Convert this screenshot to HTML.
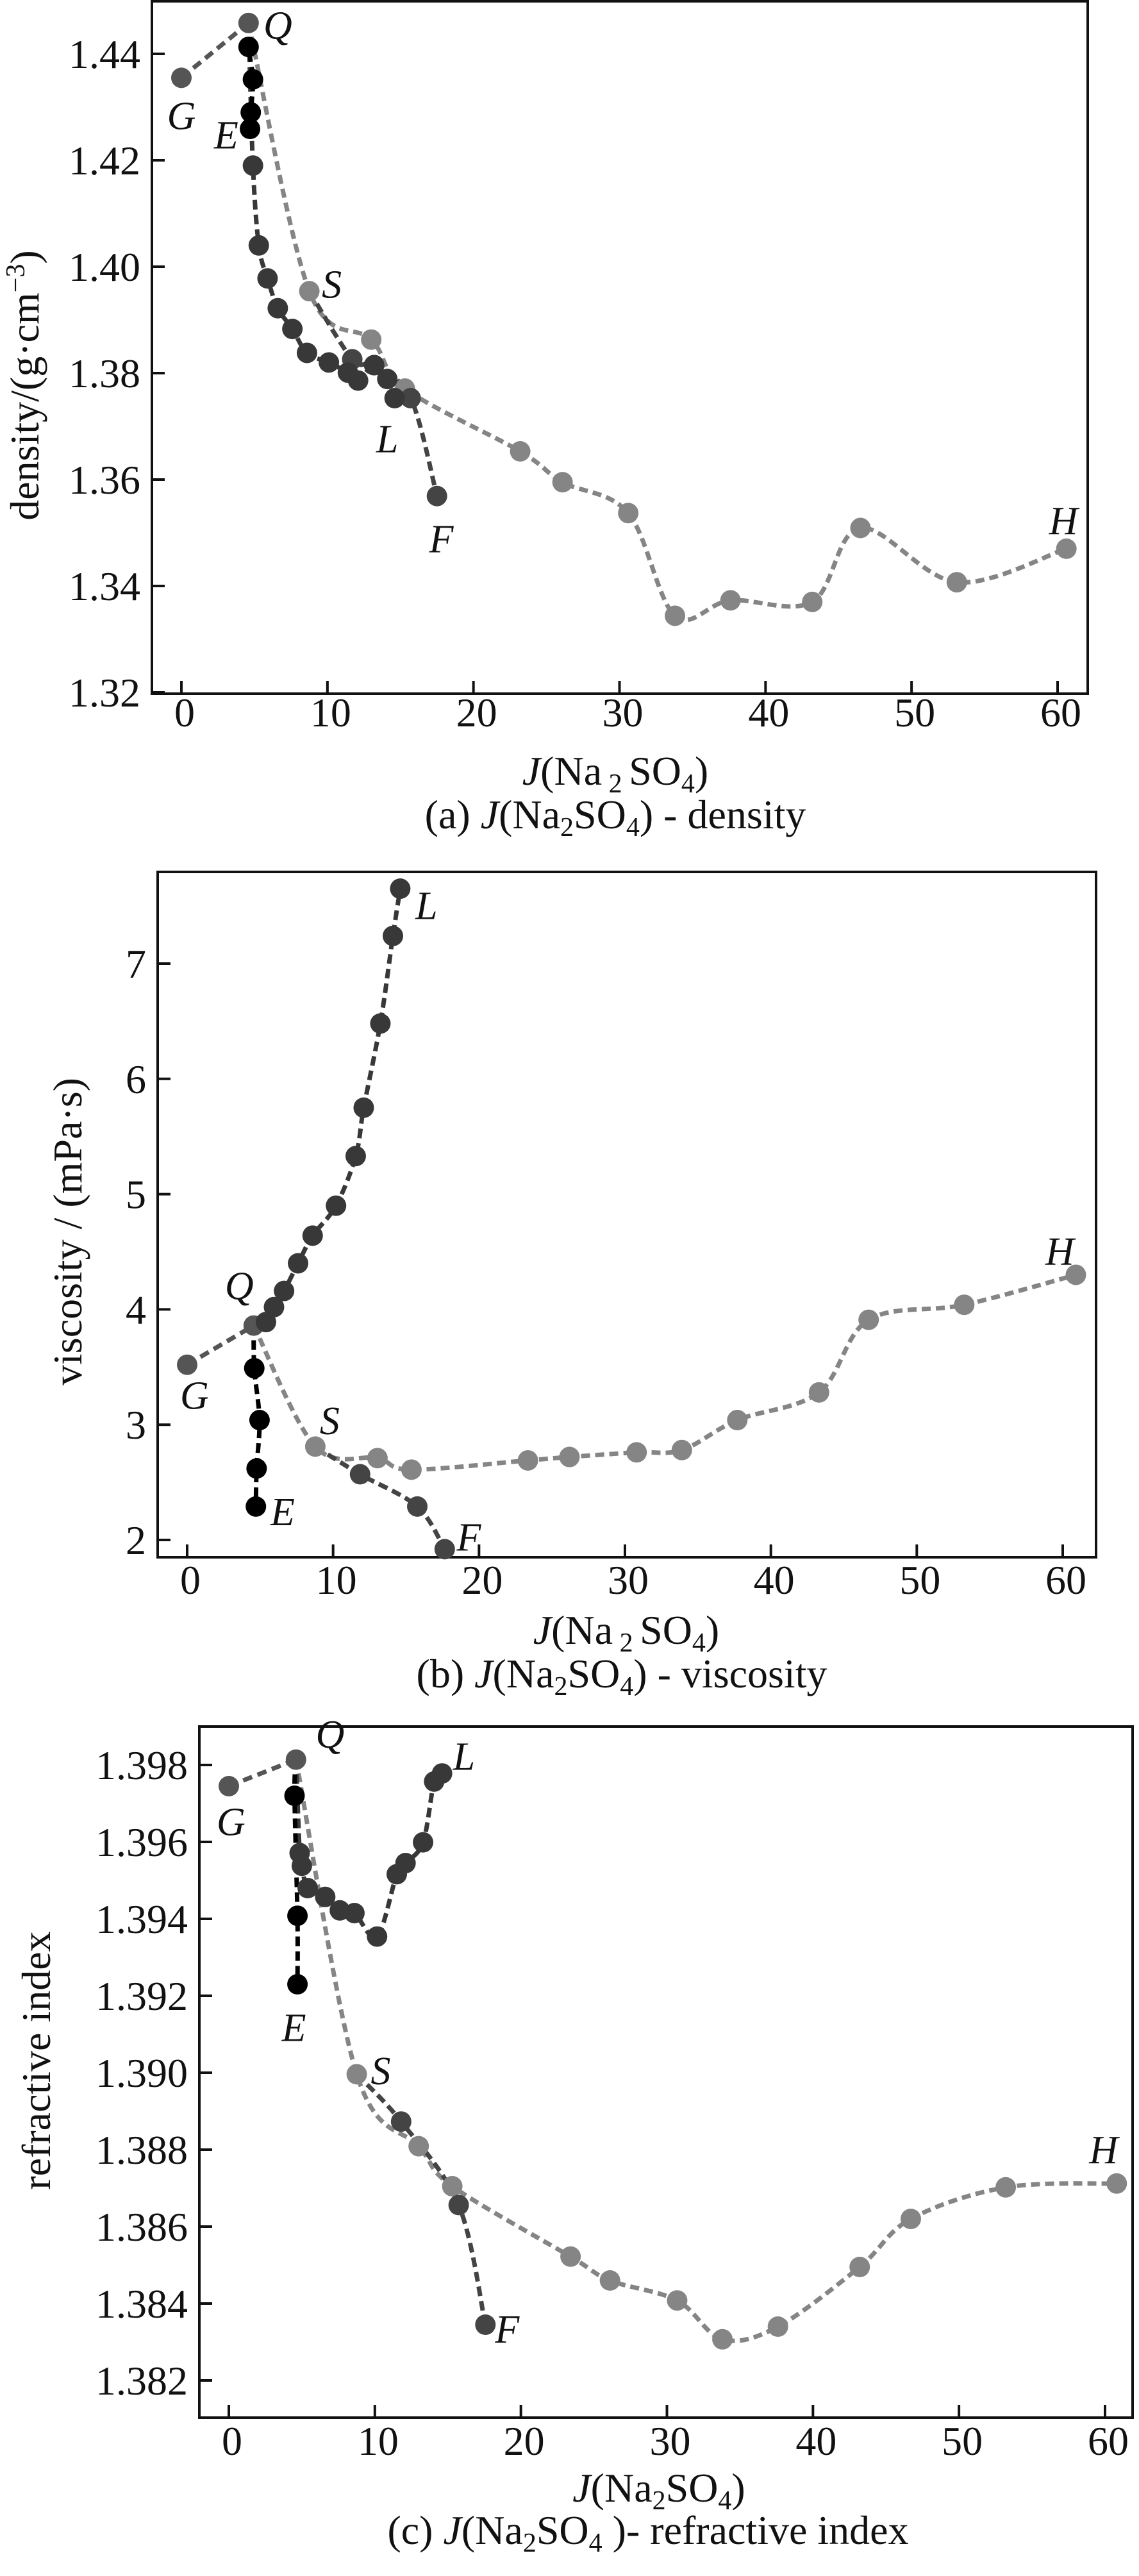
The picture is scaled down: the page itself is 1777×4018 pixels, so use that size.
<!DOCTYPE html>
<html><head><meta charset="utf-8">
<style>
html,body{margin:0;padding:0;background:#fff}
svg{display:block}
text{font-family:"Liberation Serif",serif;fill:#111}
.tick{font-size:64px}
.lab{font-size:62px;font-style:italic}
.ax{font-size:64px}
</style></head>
<body>
<svg id="fig" width="1777" height="4018" viewBox="0 0 1777 4018" xmlns="http://www.w3.org/2000/svg">
<rect width="1777" height="4018" fill="#fff"/>
<g id="pa"></g>
<g id="pb"></g>
<g id="pc"></g>
<text class="ax" transform="translate(60,601) rotate(-90)" text-anchor="middle">density/(g·cm<tspan font-size="42" dy="-22">−3</tspan><tspan dy="22">)</tspan></text>
<text class="ax" x="960" y="1224" text-anchor="middle"><tspan font-style="italic">J</tspan>(Na<tspan font-size="42" dy="12"> 2 </tspan><tspan dy="-12">SO</tspan><tspan font-size="42" dy="12">4</tspan><tspan dy="-12">)</tspan></text>
<text class="ax" x="960" y="1292" text-anchor="middle">(a) <tspan font-style="italic">J</tspan>(Na<tspan font-size="42" dy="12">2</tspan><tspan dy="-12">SO</tspan><tspan font-size="42" dy="12">4</tspan><tspan dy="-12">) - density</tspan></text>
<text class="ax" transform="translate(127,1921) rotate(-90)" text-anchor="middle">viscosity / (mPa·s)</text>
<text class="ax" x="977" y="2564" text-anchor="middle"><tspan font-style="italic">J</tspan>(Na<tspan font-size="42" dy="12"> 2 </tspan><tspan dy="-12">SO</tspan><tspan font-size="42" dy="12">4</tspan><tspan dy="-12">)</tspan></text>
<text class="ax" x="970" y="2632" text-anchor="middle">(b) <tspan font-style="italic">J</tspan>(Na<tspan font-size="42" dy="12">2</tspan><tspan dy="-12">SO</tspan><tspan font-size="42" dy="12">4</tspan><tspan dy="-12">) - viscosity</tspan></text>
<text class="ax" transform="translate(78,3214) rotate(-90)" text-anchor="middle">refractive index</text>
<text class="ax" x="1028" y="3902" text-anchor="middle"><tspan font-style="italic">J</tspan>(Na<tspan font-size="42" dy="12">2</tspan><tspan dy="-12">SO</tspan><tspan font-size="42" dy="12">4</tspan><tspan dy="-12">)</tspan></text>
<text class="ax" x="1011" y="3968" text-anchor="middle">(c) <tspan font-style="italic">J</tspan>(Na<tspan font-size="42" dy="12">2</tspan><tspan dy="-12">SO</tspan><tspan font-size="42" dy="12">4</tspan><tspan dy="-12"> )- refractive index</tspan></text>
</svg>
<script>
// ---- (a) density ----
const aTicksY=[1.32,1.34,1.36,1.38,1.40,1.42,1.44];
const aTickLabelsY=["1.32","1.34","1.36","1.38","1.40","1.42","1.44"];
const aGQ=[[0,1.4355],[4.6,1.4458]];
const aEQ=[[4.6,1.4458],[4.6,1.4413],[4.9,1.4352],[4.75,1.4290],[4.7,1.4259]];
const aQL=[[4.6,1.4458],[4.9,1.4190],[5.3,1.4040],[5.9,1.3978],[6.6,1.3922],[7.6,1.3883],[8.6,1.3838],[10.1,1.3820],[11.4,1.3801],[12.1,1.3786],[13.2,1.3815],[14.1,1.3789],[14.6,1.3753]];
const aSF=[[8.76,1.3954],[11.7,1.3826],[13.2,1.3815],[15.7,1.3753],[17.5,1.3569]];
const aQSH=[[4.6,1.4458],[8.76,1.3954],[13.0,1.3863],[15.3,1.3771],[23.2,1.3653],[26.1,1.3595],[30.6,1.3537],[33.8,1.3344],[37.6,1.3373],[43.2,1.3370],[46.5,1.3509],[53.1,1.3407],[60.6,1.3470]];
const aLabels=[["Q",6.6,1.4455],["G",0,1.4285],["E",3.07,1.4249],["S",10.3,1.3968],["L",14.1,1.3678],["F",17.8,1.3490],["H",60.4,1.3524]];
// ---- (b) viscosity ----
const bTicksY=[2,3,4,5,6,7];
const bTickLabelsY=["2","3","4","5","6","7"];
const bGQ=[[0,3.52],[4.56,3.86]];
const bEQ=[[4.56,3.86],[4.6,3.49],[4.96,3.04],[4.76,2.62],[4.71,2.29]];
const bQL=[[4.56,3.86],[5.4,3.89],[5.95,4.02],[6.64,4.16],[7.6,4.40],[8.6,4.64],[10.2,4.90],[11.55,5.33],[12.1,5.75],[13.24,6.48],[14.1,7.24],[14.6,7.65]];
const bSF=[[8.78,2.81],[11.85,2.57],[15.77,2.29],[17.65,1.92]];
const bQSH=[[4.56,3.86],[8.78,2.81],[13.04,2.71],[15.37,2.61],[23.35,2.69],[26.2,2.72],[30.8,2.76],[33.9,2.78],[37.7,3.04],[43.3,3.28],[46.7,3.91],[53.25,4.04],[60.9,4.30]];
const bLabels=[["L",16.4,7.51],["Q",3.57,4.21],["G",0.5,3.26],["S",9.77,3.04],["E",6.54,2.25],["F",19.3,2.03],["H",59.8,4.51]];
// ---- (c) refractive index ----
const cTicksY=[1.382,1.384,1.386,1.388,1.390,1.392,1.394,1.396,1.398];
const cTickLabelsY=["1.382","1.384","1.386","1.388","1.390","1.392","1.394","1.396","1.398"];
const cGQ=[[0,1.39745],[4.6,1.39814]];
const cEQ=[[4.6,1.39814],[4.5,1.39720],[4.7,1.39408],[4.7,1.39230]];
const cQL=[[4.6,1.39814],[4.85,1.39571],[5.0,1.39538],[5.4,1.39480],[6.6,1.39457],[7.6,1.39422],[8.6,1.39415],[10.15,1.39354],[11.5,1.39516],[12.1,1.39545],[13.3,1.39599],[14.06,1.39757],[14.6,1.39778]];
const cSF=[[8.76,1.38996],[11.8,1.38873],[15.74,1.38656],[17.57,1.38345]];
const cQSH=[[4.6,1.39814],[8.76,1.38996],[13.0,1.38809],[15.3,1.38705],[23.4,1.38522],[26.1,1.38460],[30.7,1.38408],[33.8,1.38307],[37.6,1.38340],[43.2,1.38495],[46.7,1.38620],[53.2,1.38702],[60.8,1.38712]];
const cLabels=[["Q",6.93,1.39882],["L",16.1,1.39824],["G",0.15,1.39654],["E",4.46,1.39119],["S",10.4,1.39007],["F",19.06,1.38335],["H",59.9,1.38802]];
const xTicks=[0,10,20,30,40,50,60];
const xTickLabels=["0","10","20","30","40","50","60"];

const NS="http://www.w3.org/2000/svg";
function mk(tag,attrs,parent){const e=document.createElementNS(NS,tag);for(const k in attrs)e.setAttribute(k,attrs[k]);parent.appendChild(e);return e;}
function smooth(pts){
  if(pts.length<3){return "M"+pts.map(p=>p[0].toFixed(1)+","+p[1].toFixed(1)).join(" L");}
  let d="M"+pts[0][0].toFixed(1)+","+pts[0][1].toFixed(1);
  for(let i=0;i<pts.length-1;i++){
    const p0=pts[i-1]||pts[i],p1=pts[i],p2=pts[i+1],p3=pts[i+2]||p2;
    const t=0.5/3;
    const c1=[p1[0]+(p2[0]-p0[0])*t,p1[1]+(p2[1]-p0[1])*t];
    const c2=[p2[0]-(p3[0]-p1[0])*t,p2[1]-(p3[1]-p1[1])*t];
    d+=" C"+c1.map(v=>v.toFixed(1))+" "+c2.map(v=>v.toFixed(1))+" "+p2[0].toFixed(1)+","+p2[1].toFixed(1);
  }
  return d;
}
function panel(g,cfg){
  const X=v=>cfg.x0+(v)*(cfg.x60-cfg.x0)/60;
  const Y=v=>cfg.yA+(v-cfg.vA)*(cfg.yB-cfg.yA)/(cfg.vB-cfg.vA);
  const box=mk("rect",{x:cfg.L,y:cfg.T,width:cfg.R-cfg.L,height:cfg.B-cfg.T,fill:"none",stroke:"#111","stroke-width":4},g);
  
  
  cfg.yt.forEach((v,i)=>{
    const y=Y(v);
    const tk=mk("line",{x1:cfg.L,x2:cfg.L+20,y1:y,y2:y,stroke:"#111","stroke-width":4},g);
    
    
    const t=mk("text",{x:cfg.L-18,y:y+22,"text-anchor":"end","class":"tick"},g);
    
    
    t.textContent=cfg.ytl[i];
  });
  xTicks.forEach((v,i)=>{
    const x=X(v);
    const tk=mk("line",{x1:x,x2:x,y1:cfg.B,y2:cfg.B-20,stroke:"#111","stroke-width":4},g);
    
    
    const t=mk("text",{x:x+5,y:cfg.xb,"text-anchor":"middle","class":"tick"},g);
    
    
    t.textContent=xTickLabels[i];
  });
  const series=[
    {d:cfg.QSH,c:"#858585",n:"series-Q-S-H",dash:"14 8"},
    {d:cfg.GQ,c:"#555",n:"series-G-Q",dash:"15 9"},
    {d:cfg.SF,c:"#444",n:"series-S-F",dash:"15 8"},
    {d:cfg.QL,c:"#383838",n:"series-Q-L",dash:"15 8"},
    {d:cfg.EQ,c:"#000",n:"series-E-Q",dash:"15 8"}
  ];
  series.forEach(s=>{
    const pts=s.d.map(p=>[X(p[0]),Y(p[1])]);
    const path=mk("path",{d:smooth(pts),fill:"none",stroke:s.c,"stroke-width":7,"stroke-dasharray":s.dash},g);
    
    
  });
  series.forEach(s=>{
    s.d.forEach((p,i)=>{
      if(i===0 && s.n!=="series-G-Q") return;
      const c=mk("circle",{cx:X(p[0]),cy:Y(p[1]),r:16,fill:s.c},g);
      
      
    });
  });
  cfg.labels.forEach(l=>{
    const t=mk("text",{x:X(l[1]),y:Y(l[2])+22,"text-anchor":"middle","class":"lab"},g);
    
    
    t.textContent=l[0];
  });
}
panel(document.getElementById("pa"),{L:237,R:1697,T:2,B:1082,x0:283,x60:1650,yA:84,vA:1.44,yB:250,vB:1.42,xb:1133,yt:aTicksY,ytl:aTickLabelsY,GQ:aGQ,EQ:aEQ,QL:aQL,SF:aSF,QSH:aQSH,labels:aLabels});
panel(document.getElementById("pb"),{L:246,R:1710,T:1360,B:2429,x0:292,x60:1658,yA:1503,vA:7,yB:2402,vB:2,xb:2486,yt:bTicksY,ytl:bTickLabelsY,GQ:bGQ,EQ:bEQ,QL:bQL,SF:bSF,QSH:bQSH,labels:bLabels});
panel(document.getElementById("pc"),{L:311,R:1767,T:2693,B:3771,x0:357,x60:1724,yA:2753,vA:1.398,yB:3713,vB:1.382,xb:3829,yt:cTicksY,ytl:cTickLabelsY,GQ:cGQ,EQ:cEQ,QL:cQL,SF:cSF,QSH:cQSH,labels:cLabels});
</script>
</body></html>
